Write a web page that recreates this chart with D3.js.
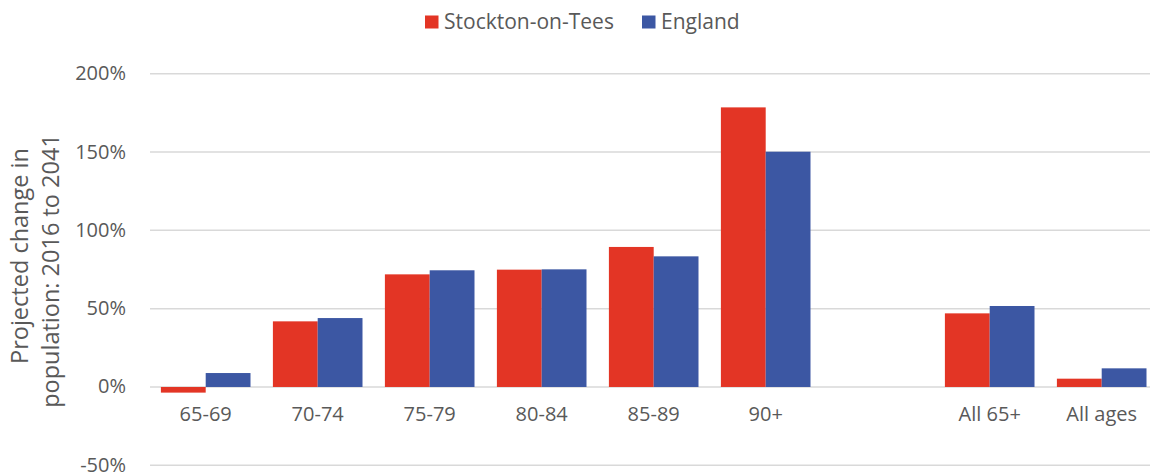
<!DOCTYPE html>
<html>
<head>
<meta charset="utf-8">
<script src="https://cdn.jsdelivr.net/npm/d3@7"></script>
<style>
  html, body { margin: 0; padding: 0; background: #fff; }
  svg { display: block; font-family: "Open Sans", sans-serif; }
</style>
</head>
<body>
<svg id="chart" width="1150" height="475"></svg>
<script>
const categories = ["65-69", "70-74", "75-79", "80-84", "85-89", "90+", "", "All 65+", "All ages"];
const seriesNames = ["Stockton-on-Tees", "England"];
const stockton = [-3.6, 41.9, 71.9, 74.9, 89.4, 178.5, null, 47.0, 5.3];
const england  = [8.9, 44.0, 74.5, 75.1, 83.4, 150.2, null, 51.7, 11.9];
const yTicks = [-50, 0, 50, 100, 150, 200];
const colors = ["#E33525", "#3C57A3"];
const titleLines = ["Projected change in", "population: 2016 to 2041"];

const svg = d3.select("#chart");
const textColor = "#595959";

const x = d3.scaleBand().domain(categories).range([149.7, 1157.7]).paddingInner(0.2).paddingOuter(0.1);
const xs = d3.scaleBand().domain(seriesNames).range([0, x.bandwidth()]);
const y = d3.scaleLinear().domain([-50, 200]).range([465.3, 73.7]);

// gridlines
svg.append("g").selectAll("line").data(yTicks).join("line")
  .attr("x1", 150).attr("x2", 1158)
  .attr("y1", d => y(d)).attr("y2", d => y(d))
  .attr("stroke", "#D9D9D9").attr("stroke-width", 1.5);

// y tick labels via axis
const yAxis = svg.append("g").attr("transform", "translate(150,0)")
  .call(d3.axisLeft(y).tickValues(yTicks).tickFormat(d => d + "%").tickSize(0).tickPadding(24));
yAxis.select(".domain").remove();
yAxis.selectAll("text").attr("fill", textColor).attr("dy", "0.3em")
  .style("font-size", "20px").style("font-family", "'Open Sans', sans-serif");

// bars
const data = categories.map((c, i) => ({ cat: c, vals: [stockton[i], england[i]] }));
const groups = svg.append("g").selectAll("g").data(data).join("g")
  .attr("transform", d => `translate(${x(d.cat)},0)`);
groups.selectAll("rect").data(d => d.vals.map((v, j) => ({ v, s: seriesNames[j], j })).filter(e => e.v !== null))
  .join("rect")
  .attr("x", e => xs(e.s))
  .attr("width", xs.bandwidth())
  .attr("y", e => y(Math.max(0, e.v)))
  .attr("height", e => Math.abs(y(e.v) - y(0)))
  .attr("fill", e => colors[e.j]);

// x labels via axis
const xAxis = svg.append("g").attr("transform", `translate(0,${y(0)})`)
  .call(d3.axisBottom(x).tickSize(0).tickPadding(20));
xAxis.select(".domain").remove();
xAxis.selectAll("text").attr("fill", textColor).style("font-size", "20px").style("font-family", "'Open Sans', sans-serif");

// y title
const title = svg.append("g");
const titleX = [28, 59];
const titleY = [256, 271];
titleLines.forEach((t, i) => {
  title.append("text")
    .attr("transform", `translate(${titleX[i]},${titleY[i]}) rotate(-90)`)
    .attr("text-anchor", "middle")
    .attr("fill", textColor)
    .style("font-size", "23.5px")
    .text(t);
});

// legend
const legendX = [425, 642];
const leg = svg.append("g");
seriesNames.forEach((s, i) => {
  leg.append("rect").attr("x", legendX[i]).attr("y", 15.5).attr("width", 13.5).attr("height", 13)
    .attr("fill", colors[i]);
  leg.append("text").attr("x", legendX[i] + 19).attr("y", 29)
    .attr("fill", textColor).style("font-size", "21px").text(s);
});
</script>
</body>
</html>
